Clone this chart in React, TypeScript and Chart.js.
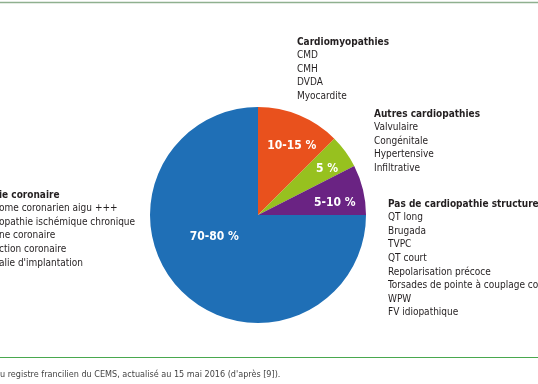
import React, { useEffect, useRef } from "react";
import { Chart, registerables } from "chart.js";
Chart.register(...registerables);

const categories = ["Cardiomyopathies", "Autres cardiopathies", "Pas de cardiopathie structurelle", "Pathologie coronaire"];
const values = [12.5, 5, 7.5, 75];
const sliceLabels = ["10-15 %", "5 %", "5-10 %", "70-80 %"];
const colors = ["#e9511d", "#97c11f", "#6a2383", "#1f6fb6"];
const labelRadius = [0.71, 0.77, 0.72, 0.45];
const labelAlong = [0.58, 0.61, 0.67, 0.57];

const groupCardio = ["Cardiomyopathies", "CMD", "CMH", "DVDA", "Myocardite"];
const groupAutres = ["Autres cardiopathies", "Valvulaire", "Congénitale", "Hypertensive", "Infiltrative"];
const groupPas = ["Pas de cardiopathie structurelle", "QT long", "Brugada", "TVPC", "QT court", "Repolarisation précoce", "Torsades de pointe à couplage court", "WPW", "FV idiopathique"];
const groupCoro = ["ie coronaire", "ome coronarien aigu +++", "opathie ischémique chronique", "ne coronaire", "ction coronaire", "alie d'implantation"];
const footer = "u registre francilien du CEMS, actualisé au 15 mai 2016 (d'après [9]).";

const FONT = "'DejaVu Sans Condensed', 'DejaVu Sans', sans-serif";

const textPlugin = {
  id: "texts",
  afterDraw(chart: any) {
    const ctx = chart.ctx as CanvasRenderingContext2D;
    const meta = chart.getDatasetMeta(0);
    ctx.save();
    ctx.fillStyle = "#ffffff";
    ctx.font = `bold 12px ${FONT}`;
    ctx.textAlign = "center";
    ctx.textBaseline = "middle";
    meta.data.forEach((arc: any, i: number) => {
      const a = arc.startAngle + (arc.endAngle - arc.startAngle) * labelAlong[i];
      const r = arc.outerRadius * labelRadius[i];
      ctx.fillText(sliceLabels[i], arc.x + Math.cos(a) * r, arc.y + Math.sin(a) * r);
    });
    const drawGroup = (lines: string[], x: number, y: number) => {
      ctx.textAlign = "left";
      ctx.textBaseline = "middle";
      ctx.fillStyle = "#231f20";
      lines.forEach((t, i) => {
        ctx.font = (i === 0 ? "bold " : "") + `10px ${FONT}`;
        ctx.fillText(t, x, y + i * 13.6);
      });
    };
    drawGroup(groupCardio, 297, 42);
    drawGroup(groupAutres, 374, 114);
    drawGroup(groupPas, 388, 204);
    drawGroup(groupCoro, -1, 195);
    ctx.strokeStyle = "#8fb08f";
    ctx.lineWidth = 1.5;
    ctx.beginPath();
    ctx.moveTo(0, 2.5);
    ctx.lineTo(538, 2.5);
    ctx.stroke();
    ctx.strokeStyle = "#49a84e";
    ctx.lineWidth = 1;
    ctx.beginPath();
    ctx.moveTo(0, 357.5);
    ctx.lineTo(538, 357.5);
    ctx.stroke();
    ctx.fillStyle = "#444444";
    ctx.font = `9px ${FONT}`;
    ctx.textAlign = "left";
    ctx.textBaseline = "middle";
    ctx.fillText(footer, 0, 375);
    ctx.restore();
  },
};

export default function App() {
  const ref = useRef<HTMLCanvasElement>(null);
  useEffect(() => {
    document.body.style.margin = "0";
    const chart = new Chart(ref.current!, {
      type: "pie",
      data: {
        labels: categories,
        datasets: [{ data: values, backgroundColor: colors, borderWidth: 0 }],
      },
      options: {
        responsive: false,
        animation: false,
        layout: { padding: { top: 107, bottom: 61, left: 150, right: 172 } },
        plugins: { legend: { display: false }, tooltip: { enabled: false } },
      },
      plugins: [textPlugin],
    });
    return () => chart.destroy();
  }, []);
  return (
    <div style={{ position: "fixed", left: 0, top: 0, width: 538, height: 384, background: "#fff" }}>
      <canvas ref={ref} width={538} height={384} />
    </div>
  );
}
